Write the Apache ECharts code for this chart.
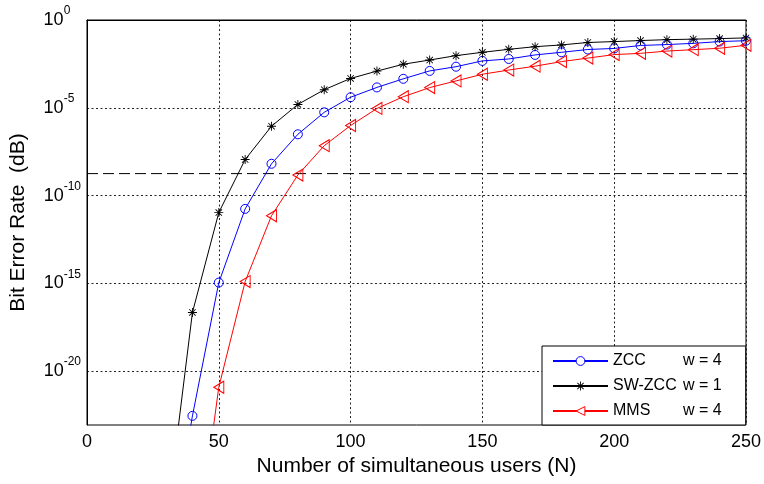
<!DOCTYPE html>
<html>
<head>
<meta charset="utf-8">
<style>
  html, body { margin: 0; padding: 0; background: #fff; }
  #chart { width: 764px; height: 484px; }
</style>
<script src="https://cdn.jsdelivr.net/npm/echarts@6/dist/echarts.min.js"></script>
</head>
<body>
<div id="chart"></div>
<script>
// Number of simultaneous users
const users = [30, 40, 50, 60, 70, 80, 90, 100, 110, 120, 130, 140, 150, 160, 170, 180, 190, 200, 210, 220, 230, 240, 250];

// log10 of bit error rate for each code family
const zccLogBer = [-31.5, -22.55, -14.96, -10.76, -8.19, -6.51, -5.26, -4.40, -3.84, -3.35, -2.90, -2.66, -2.33, -2.22, -1.99, -1.84, -1.68, -1.62, -1.45, -1.40, -1.33, -1.23, -1.18];
const swZccLogBer = [-28.8, -16.66, -10.97, -7.95, -6.05, -4.81, -3.97, -3.33, -2.91, -2.52, -2.28, -2.03, -1.84, -1.67, -1.52, -1.42, -1.28, -1.23, -1.17, -1.12, -1.09, -1.06, -1.02];
const mmsLogBer = [null, -32.0, -20.92, -14.90, -11.15, -8.83, -7.16, -6.01, -5.04, -4.37, -3.85, -3.47, -3.09, -2.85, -2.63, -2.37, -2.17, -1.97, -1.90, -1.77, -1.69, -1.61, -1.44];

// Reference BER level (log10) drawn as a dashed horizontal line
const thresholdLogBer = -8.75;

// Axis ranges and tick values
const xTicks = [0, 50, 100, 150, 200, 250];
const yTickExponents = [-20, -15, -10, -5, 0];
const yMinExponent = -23.07;
const yMaxExponent = 0;

const seriesNames = ['ZCC', 'SW-ZCC', 'MMS'];
const seriesWeights = ['w = 4', 'w = 1', 'w = 4'];
const seriesColors = ['#0000ff', '#000000', '#ff0000'];

const FONT = '"Liberation Sans", Arial, Helvetica, sans-serif';

const pairs = (ys) => users.map((u, i) => [u, ys[i]]);

// Eight-spoke asterisk marker
const starPath = 'path://M9,0h2v20h-2z M0,9h20v2h-20z M2.2,3.6L3.6,2.2L17.8,16.4L16.4,17.8z M16.4,2.2L17.8,3.6L3.6,17.8L2.2,16.4z';

// Superscript styles: right padding keeps the "10" base at a fixed place
const supBase = { fontSize: 12, color: '#000', fontFamily: FONT };
const supRich = {
  b: { fontSize: 18, color: '#000', fontFamily: FONT, lineHeight: 18 },
  e1: Object.assign({}, supBase, { padding: [0, 10.7, 18, 0] }),
  e2: Object.assign({}, supBase, { padding: [0, 6.7, 18, 0] }),
  e3: Object.assign({}, supBase, { padding: [0, 0, 18, 0] })
};

const chart = echarts.init(document.getElementById('chart'), null, { renderer: 'canvas' });

chart.setOption({
  animation: false,
  backgroundColor: '#fff',
  textStyle: { fontFamily: FONT },
  grid: {
    left: 86, right: 17.5, top: 20, bottom: 59,
    show: true, borderColor: '#000', borderWidth: 1, backgroundColor: 'transparent'
  },
  xAxis: {
    type: 'value',
    min: xTicks[0], max: xTicks[xTicks.length - 1], interval: 50,
    name: 'Number of simultaneous users (N)',
    nameLocation: 'middle',
    nameGap: 31,
    nameTextStyle: { fontSize: 21, color: '#000', fontFamily: FONT },
    axisLine: { show: true, lineStyle: { color: '#000', width: 1 } },
    axisTick: { show: false },
    axisLabel: { fontSize: 18, color: '#000', margin: 8, fontFamily: FONT },
    splitLine: { show: true, lineStyle: { color: '#222', width: 1, type: [2, 2.5] } }
  },
  yAxis: {
    type: 'value',
    min: yMinExponent, max: yMaxExponent,
    name: 'Bit Error Rate  (dB)',
    nameLocation: 'middle',
    nameGap: 58,
    nameRotate: 90,
    nameTextStyle: { fontSize: 21, color: '#000', fontFamily: FONT },
    axisLine: { show: true, lineStyle: { color: '#000', width: 1 } },
    axisTick: { show: false, customValues: yTickExponents },
    axisLabel: {
      customValues: yTickExponents,
      margin: 6,
      formatter: (v) => {
        const s = String(v);
        return '{b|10}{e' + Math.min(s.length, 3) + '|' + s + '}';
      },
      rich: supRich
    },
    splitLine: { show: true, lineStyle: { color: '#222', width: 1, type: [2, 2.5] } }
  },
  legend: {
    data: seriesNames.map((name, i) => ({
      name: name,
      itemStyle: i === 1
        ? { color: seriesColors[i], borderWidth: 0 }
        : { color: '#fff', borderColor: seriesColors[i], borderWidth: 1 }
    })),
    orient: 'vertical',
    left: 542, top: 346,
    itemWidth: 55, itemHeight: 11, itemGap: 9,
    padding: [7, 24, 6, 10],
    backgroundColor: '#fff',
    borderColor: '#000', borderWidth: 1, borderRadius: 0,
    formatter: (name) => '{a|' + name + '}{b|' + seriesWeights[seriesNames.indexOf(name)] + '}',
    textStyle: {
      fontFamily: FONT, fontSize: 16, color: '#000',
      rich: {
        a: { width: 70, fontSize: 16, fontFamily: FONT, color: '#000' },
        b: { fontSize: 16, fontFamily: FONT, color: '#000' }
      }
    }
  },
  series: [
    {
      name: 'ZCC', type: 'line', data: pairs(zccLogBer),
      symbol: 'circle', symbolSize: 9, showAllSymbol: true, clip: true,
      lineStyle: { color: seriesColors[0], width: 1 },
      itemStyle: { color: 'rgba(255,255,255,0)', borderColor: seriesColors[0], borderWidth: 1 },
      z: 3
    },
    {
      name: 'SW-ZCC', type: 'line', data: pairs(swZccLogBer),
      symbol: starPath, symbolSize: 9, showAllSymbol: true, clip: true,
      lineStyle: { color: seriesColors[1], width: 1 },
      itemStyle: { color: seriesColors[1], borderWidth: 0 },
      z: 3
    },
    {
      name: 'MMS', type: 'line', data: pairs(mmsLogBer),
      symbol: 'triangle', symbolSize: [12, 10], symbolRotate: 90, showAllSymbol: true, clip: true,
      lineStyle: { color: seriesColors[2], width: 1 },
      itemStyle: { color: 'rgba(255,255,255,0)', borderColor: seriesColors[2], borderWidth: 1 },
      z: 3
    },
    {
      name: 'threshold', type: 'line',
      data: [[xTicks[0], thresholdLogBer], [xTicks[xTicks.length - 1], thresholdLogBer]],
      symbol: 'none', silent: true,
      lineStyle: { color: '#000', width: 1, type: [11, 5] },
      z: 2
    }
  ]
});
</script>
</body>
</html>
